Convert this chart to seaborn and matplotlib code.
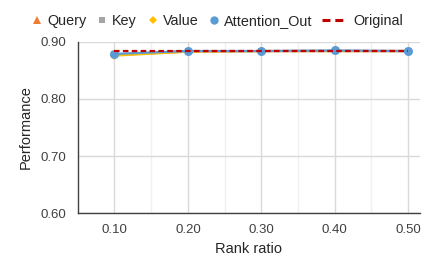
import pandas as pd
import matplotlib.pyplot as plt
import seaborn as sns
from matplotlib.lines import Line2D

sns.set_style("white")
plt.rcParams['font.family'] = ['Liberation Sans', 'DejaVu Sans']

# data
rank_ratio = [0.10, 0.20, 0.30, 0.40, 0.50]
query = [0.877, 0.883, 0.884, 0.884, 0.884]
key = [0.878, 0.884, 0.884, 0.884, 0.884]
value = [0.876, 0.883, 0.884, 0.884, 0.884]
attention_out = [0.879, 0.884, 0.884, 0.885, 0.884]
original = [0.884, 0.884, 0.884, 0.884, 0.884]

names = ["Query", "Key", "Value", "Attention_Out"]
colors = {"Query": "#ED7D31", "Key": "#A5A5A5", "Value": "#FFC000",
          "Attention_Out": "#5B9BD5"}
markers = {"Query": "^", "Key": "s", "Value": "D", "Attention_Out": "o"}
sizes = {"Query": 5, "Key": 5, "Value": 4.5, "Attention_Out": 6.5}
leg_sizes = {"Query": 6, "Key": 4, "Value": 4.2, "Attention_Out": 6}

df = pd.DataFrame({"ratio": rank_ratio * 4,
                   "perf": query + key + value + attention_out,
                   "series": sum([[n] * 5 for n in names], [])})

fig, ax = plt.subplots(figsize=(4.32, 2.67), dpi=100)
fig.subplots_adjust(left=0.18, right=0.972, top=0.843, bottom=0.202)

for n in names:
    sub = df[df["series"] == n]
    sns.lineplot(data=sub, x="ratio", y="perf", ax=ax, color=colors[n],
                 marker=markers[n], markersize=sizes[n], markeredgewidth=0,
                 linewidth=1.6, legend=False, zorder=3)
sns.lineplot(x=rank_ratio, y=original, ax=ax, color="#C00000",
             linestyle=(0, (2.5, 1.5)), linewidth=1.6, legend=False, zorder=4)

ax.set_xlim(0.05, 0.516)
ax.set_ylim(0.60, 0.90)
ax.set_xticks(rank_ratio)
ax.set_xticks([0.15, 0.25, 0.35, 0.45], minor=True)
ax.set_xticklabels([f"{v:.2f}" for v in rank_ratio])
ax.set_yticks([0.60, 0.70, 0.80, 0.90])
ax.set_yticklabels(["0.60", "0.70", "0.80", "0.90"])
ax.grid(True, which="major", color="#D9D9D9", linewidth=1)
ax.grid(True, which="minor", axis="x", color="#F0F0F0", linewidth=1)
ax.set_axisbelow(True)
for s in ["top", "right"]:
    ax.spines[s].set_visible(False)
for s in ["left", "bottom"]:
    ax.spines[s].set_color("#404040")
    ax.spines[s].set_linewidth(1)
ax.tick_params(axis="both", which="major", direction="inout", length=8,
               width=1, color="#404040", labelsize=9.5, labelcolor="#404040",
               pad=4)
ax.tick_params(axis="x", which="minor", length=0)
ax.set_xlabel("Rank ratio", fontsize=10.5, color="#262626", labelpad=4)
ax.set_ylabel("Performance", fontsize=10.5, color="#262626", labelpad=6)

# legend: marker entries and the dashed entry need different handle lengths
handles = [Line2D([], [], color=colors[n], marker=markers[n], linestyle="none",
                  markersize=leg_sizes[n], markeredgewidth=0) for n in names]
fig.legend(handles, names, loc="center left",
           bbox_to_anchor=(30 / 432, 0.922), ncol=4, frameon=False,
           fontsize=10.4, handlelength=1.0, handletextpad=0.18,
           columnspacing=0.6, borderpad=0, borderaxespad=0,
           labelcolor="#262626")
dash = Line2D([], [], color="#C00000", linestyle=(0, (2.6, 1.6)), linewidth=2.2)
fig.legend([dash], ["Original"], loc="center left",
           bbox_to_anchor=(322 / 432, 0.922), frameon=False, fontsize=10.4,
           handlelength=1.6, handletextpad=0.55, borderpad=0,
           borderaxespad=0, labelcolor="#262626")

fig.savefig("out.png", dpi=100)
